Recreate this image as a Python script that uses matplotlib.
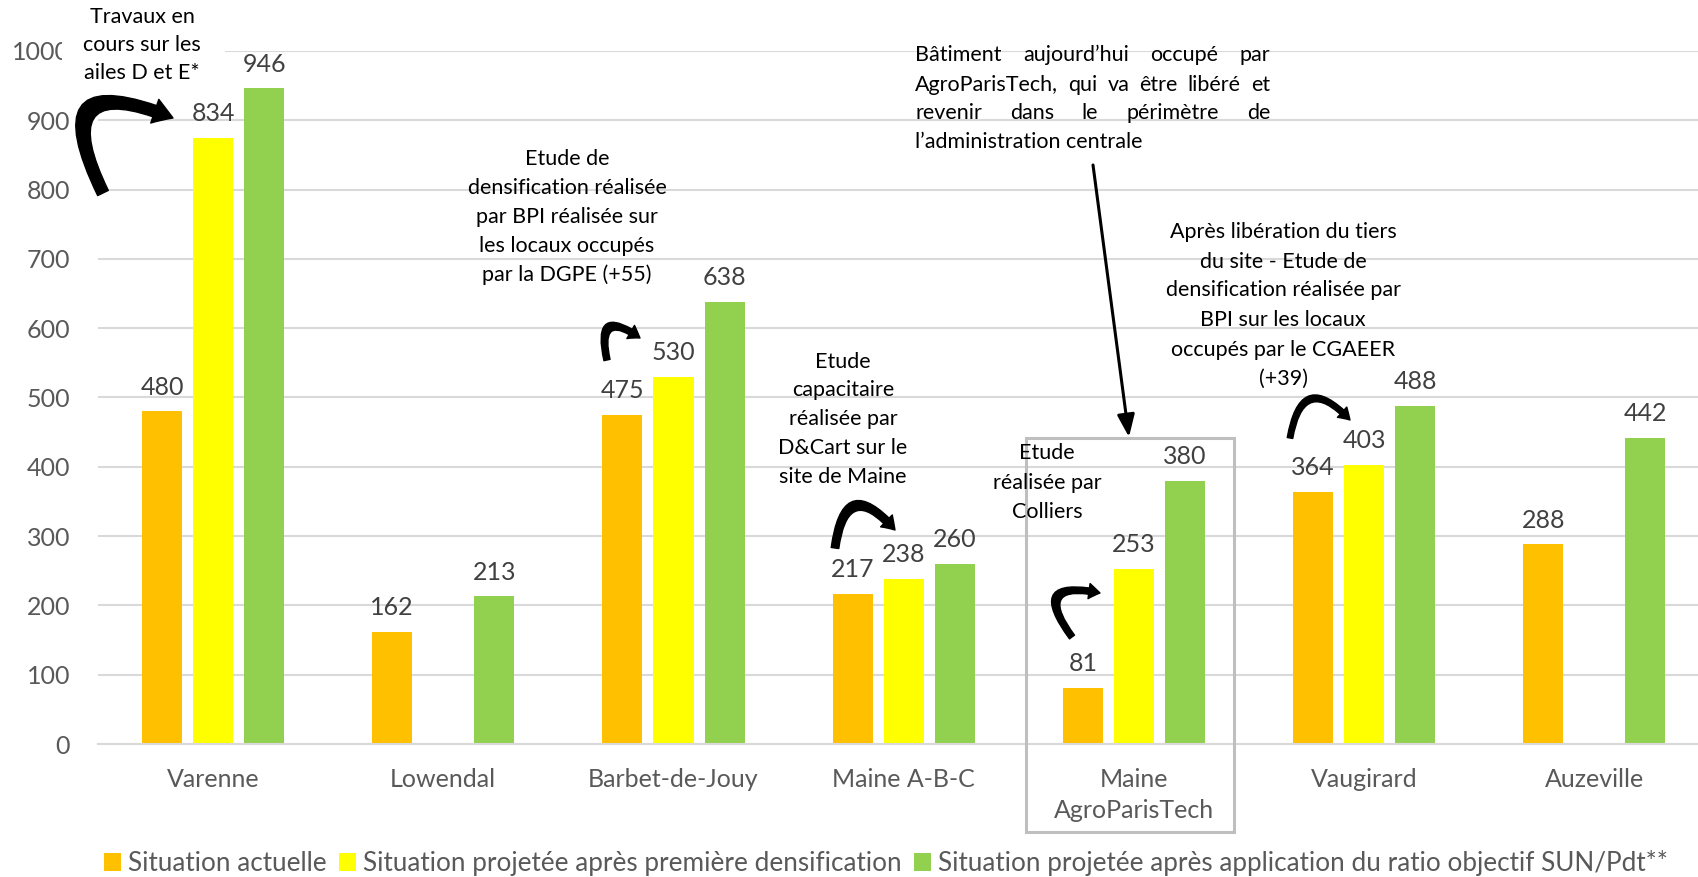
import numpy as np
import matplotlib
matplotlib.use("Agg")
import matplotlib.pyplot as plt
from matplotlib.patches import FancyArrowPatch, Rectangle, Patch

plt.rcParams['font.family'] = ['Lato', 'DejaVu Sans']

# Data
sites = ['Varenne', 'Lowendal', 'Barbet-de-Jouy', 'Maine A-B-C',
         'Maine\nAgroParisTech', 'Vaugirard', 'Auzeville']
actuelle = [480, 162, 475, 217, 81, 364, 288]
premiere = [875, np.nan, 530, 238, 253, 403, np.nan]   # bar as drawn
premiere_lbl = ['834', '', '530', '238', '253', '403', '']
ratio = [946, 213, 638, 260, 380, 488, 442]
series_names = ['Situation actuelle',
                'Situation projetée après première densification',
                'Situation projetée après application du ratio objectif SUN/Pdt**']
colors = ['#FFC000', '#FFFF00', '#92D050']

W, H = 1698, 877
fig = plt.figure(figsize=(W / 100, H / 100), dpi=100)
ax = fig.add_axes([98 / W, 133 / H, 7 * 230.2 / W, 693 / H])


def px(x, y):
    # pixel (from top-left) -> figure fraction
    return x / W, 1 - y / H


x = np.arange(len(sites))
bw = 0.174
off = 0.222
for vals, dx, c in zip([actuelle, premiere, ratio], [-off, 0, off], colors):
    ax.bar(x + dx, vals, width=bw, color=c, zorder=2)

def label_bars(vals, texts, dx):
    for i, (v, t) in enumerate(zip(vals, texts)):
        if np.isnan(v) or t == '':
            continue
        ax.annotate(t, (i + dx, v), xytext=(0, 12), textcoords='offset points',
                    ha='center', va='baseline', fontsize=18, color='#404040')

label_bars(actuelle, [str(v) for v in actuelle], -off)
label_bars(premiere, premiere_lbl, 0)
label_bars(ratio, [str(v) for v in ratio], off)

ax.set_xlim(-0.5, len(sites) - 0.5)
ax.set_ylim(0, 1000)
ax.set_yticks(range(0, 1001, 100))
ax.set_xticks(x)
ax.set_xticklabels(sites, fontsize=18, color='#595959', linespacing=1.45)
ax.tick_params(axis='y', labelsize=18, labelcolor='#595959', length=0, pad=20)
ax.tick_params(axis='x', length=0, pad=17)
ax.grid(axis='y', color='#d9d9d9', lw=1.5, zorder=0)
ax.set_axisbelow(True)
for s in ['top', 'right', 'left']:
    ax.spines[s].set_visible(False)
ax.spines['bottom'].set_color('#d9d9d9')
ax.spines['bottom'].set_linewidth(1.5)

# white box behind the Varenne note (hides part of the 1000 label)
x0, y0 = px(62, 92)
x1, y1 = px(225, 0)
fig.add_artist(Rectangle((x0, y0), x1 - x0, y1 - y0, transform=fig.transFigure,
                         facecolor='white', edgecolor='none', zorder=3))

FS = 15.5


def note(lines, cx, ys, size=FS):
    for t, y in zip(lines, ys):
        fig.text(*px(cx, y), t, ha='center', va='center', fontsize=size,
                 color='black', zorder=5)


note(['Travaux en', 'cours sur les', 'ailes D et E*'], 142, [17, 45, 73])
note(['Etude de', 'densification réalisée', 'par BPI réalisée sur',
      'les locaux occupés', 'par la DGPE (+55)'], 567, [159, 188, 217, 246, 275])
note(['Etude', 'capacitaire', 'réalisée par', 'D&Cart sur le', 'site de Maine'],
     843, [362, 390, 419, 448, 477])
note(['Etude', 'réalisée par', 'Colliers'], 1047, [453, 483, 512])
note(['Après libération du tiers', 'du site - Etude de',
      'densification réalisée par', 'BPI sur les locaux',
      'occupés par le CGAEER', '(+39)'], 1283, [232, 262, 290, 320, 350, 379])

# justified note
just_lines = ['Bâtiment aujourd’hui occupé par',
              'AgroParisTech, qui va être libéré et',
              'revenir dans le périmètre de',
              'l’administration centrale']
left, right = 915, 1270
fig.canvas.draw()
renderer = fig.canvas.get_renderer()
for k, (line, y) in enumerate(zip(just_lines, [55, 85, 113, 142])):
    if k == len(just_lines) - 1:
        fig.text(*px(left, y), line, ha='left', va='center', fontsize=FS, zorder=5)
        continue
    words = line.split(' ')
    arts = [fig.text(0, 0, w, ha='left', va='center', fontsize=FS, zorder=5) for w in words]
    widths = [a.get_window_extent(renderer).width for a in arts]
    gap = (right - left - sum(widths)) / (len(words) - 1)
    cur = left
    for a, w in zip(arts, widths):
        a.set_position(px(cur, y))
        cur += w + gap

# highlight box around Maine AgroParisTech
bx0, by0 = px(1026, 832)
bx1, by1 = px(1234, 438)
fig.add_artist(Rectangle((bx0, by0), bx1 - bx0, by1 - by0, transform=fig.transFigure,
                         facecolor='none', edgecolor='#bfbfbf', lw=2.2, zorder=4))


def curved(a, b, rad, tw, hw, hl):
    st = 'simple,tail_width=%g,head_width=%g,head_length=%g' % (tw, hw, hl)
    fig.add_artist(FancyArrowPatch(px(*a), px(*b), transform=fig.transFigure,
                                   arrowstyle=st, connectionstyle='arc3,rad=%g' % rad,
                                   mutation_scale=10, color='black', shrinkA=0,
                                   shrinkB=0, zorder=6))


curved((103, 193), (173, 118), -1.3, 0.85, 1.8, 1.4)
curved((607, 360), (640, 338), -1.3, 0.45, 1.1, 0.8)
curved((835, 548), (895, 530), -1.1, 0.55, 1.2, 0.9)
curved((1072, 637), (1100, 593), -1.3, 0.45, 1.1, 0.8)
curved((1290, 438), (1350, 420), -1.0, 0.4, 1.0, 0.8)

fig.add_artist(FancyArrowPatch(px(1093, 165), px(1129, 437), transform=fig.transFigure,
                               arrowstyle='-|>,head_width=0.35,head_length=0.9',
                               mutation_scale=15, lw=2.2, color='black',
                               shrinkA=0, shrinkB=0, zorder=6))

handles = [Patch(facecolor=c, edgecolor='none') for c in colors]
fig.legend(handles, series_names, loc='center', bbox_to_anchor=(*px(886, 863),),
           ncol=3, frameon=False, fontsize=18.8, labelcolor='#595959',
           handlelength=0.65, handleheight=0.65, handletextpad=0.25, columnspacing=0.5)

fig.savefig('out.png', dpi=100)
